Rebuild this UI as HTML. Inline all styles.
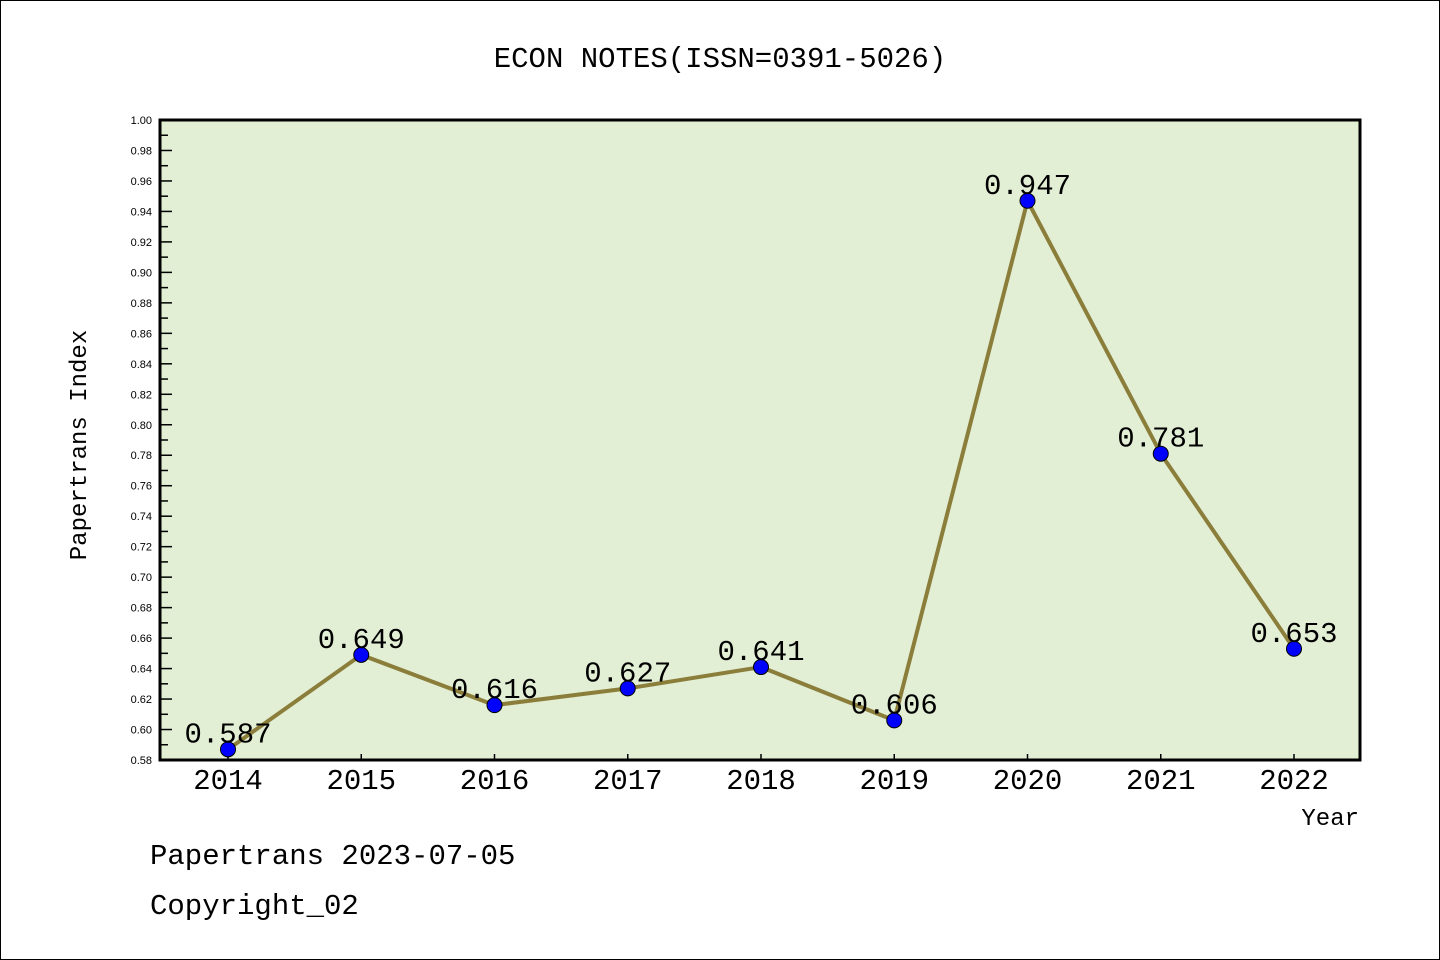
<!DOCTYPE html>
<html><head><meta charset="utf-8"><style>
html,body{margin:0;padding:0;background:#fff;}
svg{display:block;}
text{font-family:"Liberation Mono","WenQuanYi Zen Hei",monospace;}
text.sans{font-family:"Liberation Sans","DejaVu Sans",sans-serif;}
</style></head><body>
<svg id="chart" width="1440" height="960" viewBox="0 0 1440 960" xmlns="http://www.w3.org/2000/svg">
<rect x="0.5" y="0.5" width="1439" height="959" fill="#fff" stroke="#000"/>
<text x="720" y="67" text-anchor="middle" font-size="29">ECON NOTES(ISSN=0391-5026)</text>
<rect x="160" y="120" width="1200" height="640" fill="#e2efd5"/>
<g id="yaxis"></g>
<g id="xaxis"></g>
<g id="series"></g>
<rect x="160" y="120" width="1200" height="640" fill="none" stroke="#000" stroke-width="3"/>
<text x="86" y="445" text-anchor="middle" font-size="24" transform="rotate(-90 86 445)">Papertrans Index</text>
<text x="1359" y="825" text-anchor="end" font-size="24">Year</text>
<text x="150" y="864" font-size="29">Papertrans 2023-07-05</text>
<text x="150" y="914" font-size="29">Copyright_02</text>
</svg>
<script>
const years = ["2014","2015","2016","2017","2018","2019","2020","2021","2022"];
const values = [0.587,0.649,0.616,0.627,0.641,0.606,0.947,0.781,0.653];
const valueLabels = ["0.587","0.649","0.616","0.627","0.641","0.606","0.947","0.781","0.653"];
const yTicks = [0.58,0.60,0.62,0.64,0.66,0.68,0.70,0.72,0.74,0.76,0.78,0.80,0.82,0.84,0.86,0.88,0.90,0.92,0.94,0.96,0.98,1.00];
const NS="http://www.w3.org/2000/svg";
const yMin=0.58,yMax=1.00,plotTop=120,plotBot=760;
function yS(v){return plotBot-(v-yMin)/(yMax-yMin)*(plotBot-plotTop);}
function xS(i){return 228+i*(1294-228)/(years.length-1);}
function mk(t,a,p){const e=document.createElementNS(NS,t);for(const k in a)e.setAttribute(k,a[k]);p.appendChild(e);return e;}
const ya=document.getElementById('yaxis'),xa=document.getElementById('xaxis'),se=document.getElementById('series');
yTicks.forEach((v,i)=>{
  const yy=yS(v);
  const l=mk('line',{x1:160,x2:172,y1:yy,y2:yy,stroke:'#000','stroke-width':1.5},ya);
  
  
  const t=mk('text',{x:152,y:yy+4,'text-anchor':'end','font-size':11,'class':'sans'},ya);
  
  
  t.textContent=v.toFixed(2);
  if(i<yTicks.length-1){
    const ym=yS(v+0.01);
    const m=mk('line',{x1:160,x2:168,y1:ym,y2:ym,stroke:'#000','stroke-width':1.5},ya);
    
    
  }
});
years.forEach((yr,i)=>{
  const xx=xS(i);
  const l=mk('line',{x1:xx,x2:xx,y1:plotBot,y2:plotBot-6,stroke:'#000','stroke-width':1.5},xa);
  
  
  const t=mk('text',{x:xx,y:789,'text-anchor':'middle','font-size':29},xa);
  
  
  t.textContent=yr;
});
const pts=values.map((v,i)=>xS(i)+','+yS(v)).join(' ');
const pl=mk('polyline',{points:pts,fill:'none',stroke:'#8b7d3a','stroke-width':4,'stroke-linejoin':'round'},se);


values.forEach((v,i)=>{
  const c=mk('circle',{cx:xS(i),cy:yS(v),r:7.5,fill:'#0000ff',stroke:'#000','stroke-width':1},se);
  
  
});
values.forEach((v,i)=>{
  const t=mk('text',{x:xS(i),y:yS(v)-7,'text-anchor':'middle','font-size':29},se);
  
  
  t.textContent=valueLabels[i];
});
</script>
</body></html>
